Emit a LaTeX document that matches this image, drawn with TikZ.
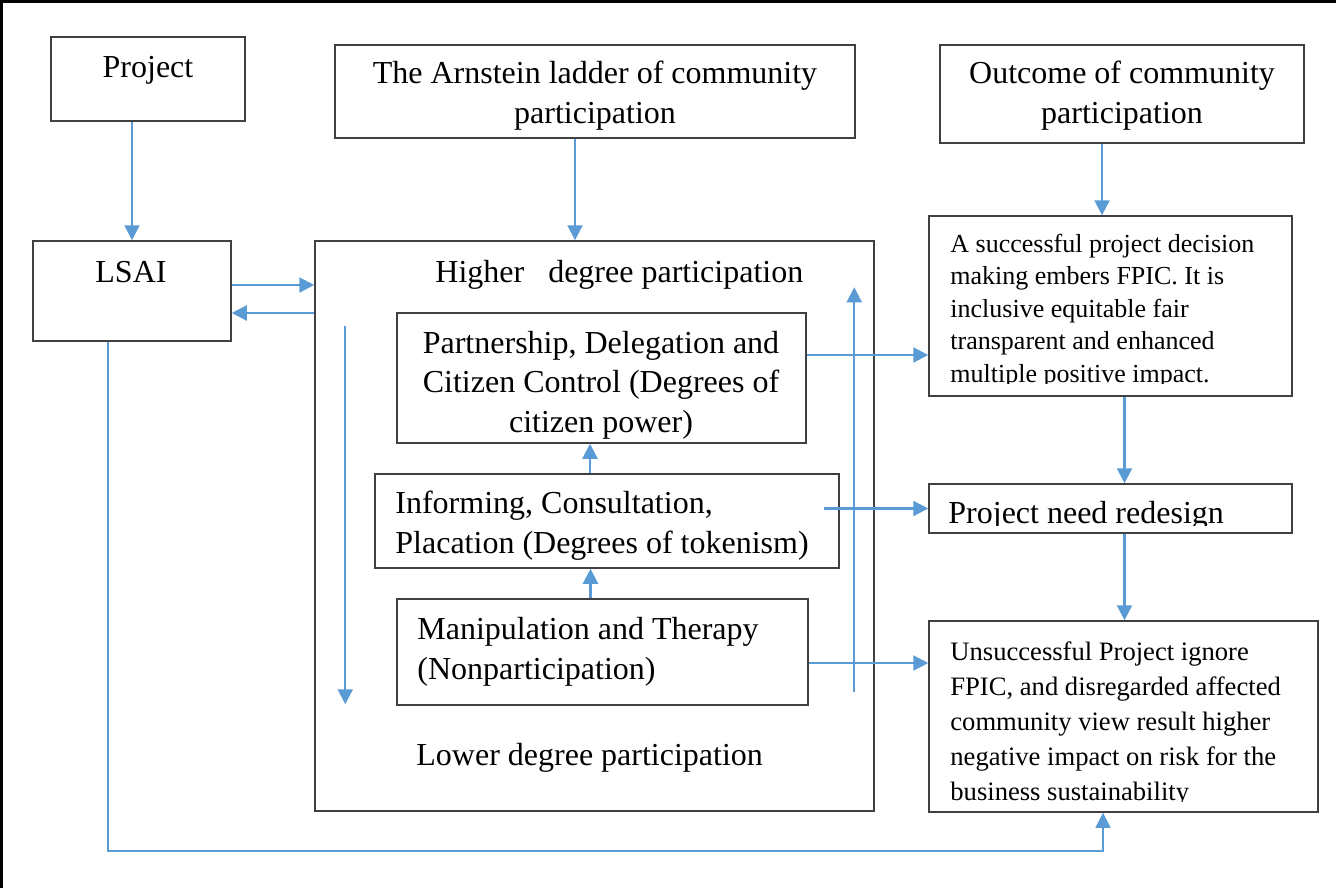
\documentclass[tikz,border=0pt]{standalone}
\usepackage{fontspec}
\setmainfont{Liberation Serif}
\usetikzlibrary{arrows.meta,calc}

\definecolor{arrowblue}{RGB}{91,155,213}
\definecolor{boxgray}{RGB}{64,64,64}

\begin{document}
\begin{tikzpicture}[x=0.5pt,y=-0.5pt]
        \tikzstyle{box}=[draw=boxgray,line width=0.75pt,inner sep=0pt]
        \tikzstyle{txt}=[inner sep=0pt,font=\fontsize{16}{19.75}\selectfont]
        \tikzstyle{arr}=[draw=arrowblue,line width=1.1pt,-{Triangle[length=7.5pt,width=7.5pt]}]

        \useasboundingbox (0,0) rectangle (1336,888);
        \draw[line width=1.5pt] (1.5,888) -- (1.5,1.5) -- (1336,1.5);

        % boxes
        \node[box,minimum width=97pt,minimum height=42pt] (proj) at (148,79) {};
        \node[box,minimum width=260pt,minimum height=46.5pt] (arn) at (595,91.5) {};
        \node[box,minimum width=182pt,minimum height=49pt] (outc) at (1122,94) {};
        \node[box,minimum width=99pt,minimum height=50pt] (lsai) at (132,291) {};
        \node[box,minimum width=279.5pt,minimum height=285pt] (ladder) at (594.5,526) {};
        \node[box,minimum width=204.5pt,minimum height=65pt] (part) at (601.5,378) {};
        \node[box,minimum width=232pt,minimum height=47pt] (info) at (607,521) {};
        \node[box,minimum width=205.5pt,minimum height=53pt] (manip) at (602.5,652) {};
        \node[box,minimum width=181.5pt,minimum height=90pt] (succ) at (1110.5,306) {};
        \node[box,minimum width=181.5pt,minimum height=24.5pt] (redes) at (1110.5,508.5) {};
        \node[box,minimum width=194.5pt,minimum height=95.5pt] (unsucc) at (1123.5,716.5) {};

        % texts (base = last line)
        \node[txt,anchor=base] (projtxt) at (148,77) {Project};
        \node[txt,anchor=base,align=center] (arntxt) at (595,123) {The Arnstein ladder of community\\participation};
        \node[txt,anchor=base,align=center] (outctxt) at (1122,123) {Outcome of community\\participation};
        \node[txt,anchor=base] (lsaitxt) at (131,282) {LSAI};
        \node[txt,anchor=base west] (hightxt) at (435,282) {Higher\ \ \ degree participation};
        \node[txt,anchor=base,align=center] (parttxt) at (601,432) {Partnership, Delegation and\\Citizen Control (Degrees of\\citizen power)};
        \node[txt,anchor=base west,align=left] (infotxt) at (395,553) {Informing, Consultation,\\Placation (Degrees of tokenism)};
        \node[txt,anchor=base west,align=left] (maniptxt) at (417,679) {Manipulation and Therapy\\(Nonparticipation)};
        \node[txt,anchor=base west] (lowtxt) at (416,765) {Lower degree participation};

        \begin{scope}
            \clip (929,216) rectangle (1292,383);
            \node[inner sep=0pt,anchor=base west,align=left,font=\fontsize{13}{16.25}\selectfont] (succtxt) at (950,382) {A successful project decision\\making embers FPIC. It is\\inclusive equitable fair\\transparent and enhanced\\multiple positive impact.};
        \end{scope}
        \begin{scope}
            \clip (929,484) rectangle (1292,525);
            \node[txt,anchor=base west] (redestxt) at (948,523) {Project need redesign};
        \end{scope}
        \begin{scope}
            \clip (929,621) rectangle (1318,801);
            \node[inner sep=0pt,anchor=base west,align=left,font=\fontsize{13.3}{17.4}\selectfont] (unsucctxt) at (950,800) {Unsuccessful Project ignore\\FPIC, and disregarded affected\\community view result higher\\negative impact on risk for the\\business sustainability};
        \end{scope}

        % connectors
        \draw[arr] (lsai.north |- proj.south) -- (lsai.north);
        \draw[arr] ([xshift=-10pt]arn.south) -- ([xshift=-10pt]arn.south |- ladder.north);
        \draw[arr] ([xshift=-10pt]outc.south) -- ([xshift=-10pt]outc.south |- succ.north);
        \draw[arr] ([xshift=7pt]succ.south) -- ([xshift=7pt]succ.south |- redes.north);
        \draw[arr] ([xshift=7pt]redes.south) -- ([xshift=7pt]redes.south |- unsucc.north);

        \coordinate (l1) at ([yshift=3pt]lsai.east);
        \coordinate (l2) at ([yshift=-11pt]lsai.east);
        \draw[arr] (l1) -- (l1 -| ladder.west);
        \draw[arr] (l2 -| ladder.west) -- (l2);

        \coordinate (u1) at ($(info.north)+(-17,0)$);
        \coordinate (u2) at ($(manip.north)+(-12,0)$);
        \draw[arr] (u1) -- (u1 |- part.south);
        \draw[arr] (u2) -- (u2 |- info.south);

        \coordinate (p1) at ([yshift=11.5pt]part.east);
        \draw[arr] (p1) -- (p1 -| succ.west);
        \coordinate (i1) at ($(info.east |- redes.west)+(-16,0)$);
        \draw[arr] (i1) -- (redes.west);
        \coordinate (m1) at ($(manip.east)+(0,11)$);
        \draw[arr] (m1) -- (m1 -| unsucc.west);

        \draw[arr] ($(ladder.north west)+(31,86)$) -- ($(ladder.north west)+(31,464)$);
        \draw[arr] ($(ladder.north west)+(540,452)$) -- ($(ladder.north west)+(540,47)$);

        \coordinate (s1) at ($(lsai.south)+(-24,0)$);
        \coordinate (s2) at ($(unsucc.south)+(-20.5,0)$);
        \draw[arr,line width=0.75pt] (s1) -- ++(0,509) -| (s2);
\end{tikzpicture}
\end{document}
